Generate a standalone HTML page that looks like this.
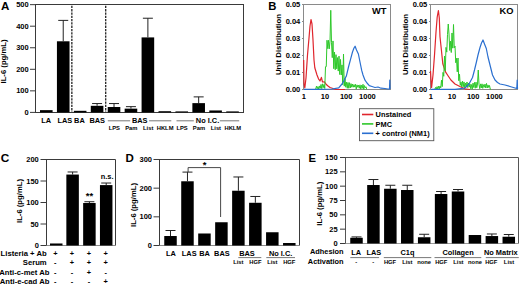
<!DOCTYPE html>
<html><head><meta charset="utf-8"><style>
html,body{margin:0;padding:0;background:#fff;}
body{width:520px;height:284px;overflow:hidden;}
svg{display:block;font-family:"Liberation Sans", sans-serif;}
</style></head><body>
<svg width="520" height="284" viewBox="0 0 520 284" font-family='"Liberation Sans", sans-serif'>
<rect width="520" height="284" fill="#fff"/>
<rect x="35.50" y="4.50" width="208.00" height="108.00" fill="none" stroke="#3a3a3a" stroke-width="1"/>
<line x1="30.00" y1="112.40" x2="35.50" y2="112.40" stroke="#3a3a3a" stroke-width="1"/>
<text x="28.70" y="115.00" font-size="7.5" text-anchor="end" font-weight="bold" fill="#000">0</text>
<line x1="30.00" y1="90.85" x2="35.50" y2="90.85" stroke="#3a3a3a" stroke-width="1"/>
<text x="28.70" y="93.45" font-size="7.5" text-anchor="end" font-weight="bold" fill="#000">100</text>
<line x1="30.00" y1="69.30" x2="35.50" y2="69.30" stroke="#3a3a3a" stroke-width="1"/>
<text x="28.70" y="71.90" font-size="7.5" text-anchor="end" font-weight="bold" fill="#000">200</text>
<line x1="30.00" y1="47.75" x2="35.50" y2="47.75" stroke="#3a3a3a" stroke-width="1"/>
<text x="28.70" y="50.35" font-size="7.5" text-anchor="end" font-weight="bold" fill="#000">300</text>
<line x1="30.00" y1="26.20" x2="35.50" y2="26.20" stroke="#3a3a3a" stroke-width="1"/>
<text x="28.70" y="28.80" font-size="7.5" text-anchor="end" font-weight="bold" fill="#000">400</text>
<line x1="30.00" y1="4.65" x2="35.50" y2="4.65" stroke="#3a3a3a" stroke-width="1"/>
<text x="28.70" y="7.25" font-size="7.5" text-anchor="end" font-weight="bold" fill="#000">500</text>
<text x="5.90" y="61.50" font-size="7.7" text-anchor="middle" font-weight="bold" fill="#000" transform="rotate(-90 5.90 61.50)">IL-6 (pg/mL)</text>
<text x="0.90" y="9.60" font-size="11.6" text-anchor="start" font-weight="bold" fill="#000">A</text>
<rect x="40.00" y="110.14" width="12.60" height="2.26" fill="#000"/>
<rect x="56.93" y="41.29" width="12.60" height="71.11" fill="#000"/>
<line x1="63.23" y1="20.38" x2="63.23" y2="41.29" stroke="#222" stroke-width="1"/>
<line x1="58.23" y1="20.38" x2="68.23" y2="20.38" stroke="#222" stroke-width="1"/>
<rect x="73.86" y="110.81" width="12.60" height="1.59" fill="#000"/>
<rect x="90.79" y="105.81" width="12.60" height="6.59" fill="#000"/>
<line x1="97.09" y1="103.56" x2="97.09" y2="105.81" stroke="#222" stroke-width="1"/>
<line x1="92.09" y1="103.56" x2="102.09" y2="103.56" stroke="#222" stroke-width="1"/>
<rect x="107.72" y="107.01" width="12.60" height="5.39" fill="#000"/>
<line x1="114.02" y1="103.56" x2="114.02" y2="107.01" stroke="#222" stroke-width="1"/>
<line x1="109.02" y1="103.56" x2="119.02" y2="103.56" stroke="#222" stroke-width="1"/>
<rect x="124.65" y="108.65" width="12.60" height="3.75" fill="#000"/>
<line x1="130.95" y1="106.65" x2="130.95" y2="108.65" stroke="#222" stroke-width="1"/>
<line x1="125.95" y1="106.65" x2="135.95" y2="106.65" stroke="#222" stroke-width="1"/>
<rect x="141.58" y="37.41" width="12.60" height="74.99" fill="#000"/>
<line x1="147.88" y1="18.23" x2="147.88" y2="37.41" stroke="#222" stroke-width="1"/>
<line x1="142.88" y1="18.23" x2="152.88" y2="18.23" stroke="#222" stroke-width="1"/>
<rect x="158.51" y="111.21" width="12.60" height="1.19" fill="#000"/>
<rect x="175.44" y="111.41" width="12.60" height="0.99" fill="#000"/>
<rect x="192.37" y="103.13" width="12.60" height="9.27" fill="#000"/>
<line x1="198.67" y1="96.88" x2="198.67" y2="103.13" stroke="#222" stroke-width="1"/>
<line x1="193.67" y1="96.88" x2="203.67" y2="96.88" stroke="#222" stroke-width="1"/>
<rect x="209.30" y="110.46" width="12.60" height="1.94" fill="#000"/>
<rect x="226.23" y="111.41" width="12.60" height="0.99" fill="#000"/>
<line x1="71.85" y1="5.80" x2="71.85" y2="112.00" stroke="#222" stroke-width="1.3" stroke-dasharray="2.3 1.0"/>
<line x1="105.70" y1="5.80" x2="105.70" y2="112.00" stroke="#222" stroke-width="1.3" stroke-dasharray="2.3 1.0"/>
<text x="46.30" y="122.80" font-size="7.4" text-anchor="middle" font-weight="bold" fill="#000">LA</text>
<text x="64.80" y="122.80" font-size="7.4" text-anchor="middle" font-weight="bold" fill="#000">LAS</text>
<text x="79.40" y="122.80" font-size="7.4" text-anchor="middle" font-weight="bold" fill="#000">BA</text>
<text x="97.20" y="122.80" font-size="7.4" text-anchor="middle" font-weight="bold" fill="#000">BAS</text>
<line x1="107.80" y1="120.80" x2="130.20" y2="120.80" stroke="#555" stroke-width="0.8"/>
<line x1="149.10" y1="120.80" x2="171.30" y2="120.80" stroke="#555" stroke-width="0.8"/>
<text x="139.70" y="122.80" font-size="7.4" text-anchor="middle" font-weight="bold" fill="#000">BAS</text>
<line x1="176.50" y1="120.80" x2="193.80" y2="120.80" stroke="#555" stroke-width="0.8"/>
<line x1="219.80" y1="120.80" x2="239.20" y2="120.80" stroke="#555" stroke-width="0.8"/>
<text x="207.50" y="122.80" font-size="7.4" text-anchor="middle" font-weight="bold" fill="#000">No I.C.</text>
<text x="114.32" y="130.20" font-size="5.8" text-anchor="middle" font-weight="bold" fill="#000">LPS</text>
<text x="131.25" y="130.20" font-size="5.8" text-anchor="middle" font-weight="bold" fill="#000">Pam</text>
<text x="148.18" y="130.20" font-size="5.8" text-anchor="middle" font-weight="bold" fill="#000">List</text>
<text x="165.11" y="130.20" font-size="5.8" text-anchor="middle" font-weight="bold" fill="#000">HKLM</text>
<text x="182.04" y="130.20" font-size="5.8" text-anchor="middle" font-weight="bold" fill="#000">LPS</text>
<text x="198.97" y="130.20" font-size="5.8" text-anchor="middle" font-weight="bold" fill="#000">Pam</text>
<text x="215.90" y="130.20" font-size="5.8" text-anchor="middle" font-weight="bold" fill="#000">List</text>
<text x="232.83" y="130.20" font-size="5.8" text-anchor="middle" font-weight="bold" fill="#000">HKLM</text>
<text x="268.30" y="9.60" font-size="11.3" text-anchor="start" font-weight="bold" fill="#000">B</text>
<rect x="303.50" y="4.50" width="87.00" height="85.00" fill="none" stroke="#8a8a8a" stroke-width="1"/>
<line x1="302.00" y1="89.50" x2="303.50" y2="89.50" stroke="#8a8a8a" stroke-width="1"/>
<text x="300.30" y="92.10" font-size="7.5" text-anchor="end" font-weight="bold" fill="#000">0.00</text>
<line x1="302.00" y1="72.50" x2="303.50" y2="72.50" stroke="#8a8a8a" stroke-width="1"/>
<text x="300.30" y="75.10" font-size="7.5" text-anchor="end" font-weight="bold" fill="#000">0.01</text>
<line x1="302.00" y1="55.50" x2="303.50" y2="55.50" stroke="#8a8a8a" stroke-width="1"/>
<text x="300.30" y="58.10" font-size="7.5" text-anchor="end" font-weight="bold" fill="#000">0.02</text>
<line x1="302.00" y1="38.50" x2="303.50" y2="38.50" stroke="#8a8a8a" stroke-width="1"/>
<text x="300.30" y="41.10" font-size="7.5" text-anchor="end" font-weight="bold" fill="#000">0.03</text>
<line x1="302.00" y1="21.50" x2="303.50" y2="21.50" stroke="#8a8a8a" stroke-width="1"/>
<text x="300.30" y="24.10" font-size="7.5" text-anchor="end" font-weight="bold" fill="#000">0.04</text>
<line x1="302.00" y1="4.50" x2="303.50" y2="4.50" stroke="#8a8a8a" stroke-width="1"/>
<text x="300.30" y="7.10" font-size="7.5" text-anchor="end" font-weight="bold" fill="#000">0.05</text>
<text x="303.80" y="99.00" font-size="7.5" text-anchor="middle" font-weight="bold" fill="#000">1</text>
<text x="325.00" y="99.00" font-size="7.5" text-anchor="middle" font-weight="bold" fill="#000">10</text>
<text x="346.20" y="99.00" font-size="7.5" text-anchor="middle" font-weight="bold" fill="#000">100</text>
<text x="367.40" y="99.00" font-size="7.5" text-anchor="middle" font-weight="bold" fill="#000">1000</text>
<text x="280.60" y="44.50" font-size="7.8" text-anchor="middle" font-weight="bold" fill="#000" transform="rotate(-90 280.60 44.50)">Unit Distribution</text>
<polyline points="303.70,60.00 304.00,84.00 304.80,88.00 306.00,78.00 307.50,55.00 309.00,38.00 310.00,26.00 311.00,19.50 312.00,24.00 313.00,40.00 314.00,60.00 314.80,67.80 317.00,75.00 318.50,78.80 320.00,81.00 321.40,77.40 322.50,82.00 324.40,81.80 326.60,84.80 328.00,86.00 330.00,87.50 333.00,88.50 336.00,89.30 345.00,89.50" fill="none" stroke="#e0252d" stroke-width="1.2" stroke-linejoin="round"/>
<polyline points="315.00,89.50 315.75,88.93 316.50,86.07 317.25,88.69 318.00,86.57 318.75,89.42 319.50,85.95 320.25,88.30 321.00,84.48 321.75,88.66 322.50,83.82 323.25,87.63 324.00,84.52 324.75,88.47 325.50,66.70 326.25,66.66 327.00,40.22 327.75,48.67 328.50,40.29 329.25,48.86 330.00,41.23 330.75,10.30 331.50,42.74 332.25,57.67 333.00,40.95 333.75,68.69 334.50,52.00 335.25,69.72 336.00,54.67 336.75,68.85 337.50,57.62 338.25,71.07 339.00,56.15 339.75,74.55 340.50,59.44 341.25,75.00 342.00,64.92 342.75,84.74 343.50,54.00 344.25,86.15 345.00,78.40 345.75,87.23 346.50,82.18 347.25,88.26 348.00,82.46 348.75,88.27 349.50,82.69 350.25,87.97 351.00,83.63 351.75,87.20 352.50,84.03 353.25,87.19 354.00,84.60 354.75,87.10 355.50,84.29 356.25,89.12 357.00,84.87 357.75,87.29 358.50,85.11 359.25,88.24 360.00,84.84 360.75,89.05 361.50,85.25 362.25,88.32 363.00,84.29 363.75,89.37 364.50,85.59 365.25,87.83 366.00,86.84 366.75,89.31" fill="none" stroke="#2ec82a" stroke-width="1.0" stroke-linejoin="round"/>
<polyline points="304.00,89.30 320.00,89.30 332.00,89.00 338.70,87.90 342.00,84.00 344.00,80.50 346.40,75.90 348.50,67.00 350.80,58.40 352.50,52.00 354.00,48.00 355.10,46.20 356.50,50.00 358.40,54.00 360.00,62.00 361.70,70.40 363.00,75.00 365.00,80.20 367.00,83.00 369.30,85.70 372.00,86.50 375.00,87.50 378.00,87.00 381.00,88.20 385.00,88.50 388.00,89.00 389.50,89.00 389.80,80.00 390.00,89.00" fill="none" stroke="#2a6fd0" stroke-width="1.2" stroke-linejoin="round"/>
<text x="386.50" y="13.90" font-size="9.3" text-anchor="end" font-weight="bold" fill="#000">WT</text>
<rect x="430.50" y="4.50" width="87.00" height="85.00" fill="none" stroke="#8a8a8a" stroke-width="1"/>
<line x1="429.00" y1="89.50" x2="430.50" y2="89.50" stroke="#8a8a8a" stroke-width="1"/>
<text x="427.30" y="92.10" font-size="7.5" text-anchor="end" font-weight="bold" fill="#000">0.00</text>
<line x1="429.00" y1="72.50" x2="430.50" y2="72.50" stroke="#8a8a8a" stroke-width="1"/>
<text x="427.30" y="75.10" font-size="7.5" text-anchor="end" font-weight="bold" fill="#000">0.01</text>
<line x1="429.00" y1="55.50" x2="430.50" y2="55.50" stroke="#8a8a8a" stroke-width="1"/>
<text x="427.30" y="58.10" font-size="7.5" text-anchor="end" font-weight="bold" fill="#000">0.02</text>
<line x1="429.00" y1="38.50" x2="430.50" y2="38.50" stroke="#8a8a8a" stroke-width="1"/>
<text x="427.30" y="41.10" font-size="7.5" text-anchor="end" font-weight="bold" fill="#000">0.03</text>
<line x1="429.00" y1="21.50" x2="430.50" y2="21.50" stroke="#8a8a8a" stroke-width="1"/>
<text x="427.30" y="24.10" font-size="7.5" text-anchor="end" font-weight="bold" fill="#000">0.04</text>
<line x1="429.00" y1="4.50" x2="430.50" y2="4.50" stroke="#8a8a8a" stroke-width="1"/>
<text x="427.30" y="7.10" font-size="7.5" text-anchor="end" font-weight="bold" fill="#000">0.05</text>
<text x="430.80" y="99.00" font-size="7.5" text-anchor="middle" font-weight="bold" fill="#000">1</text>
<text x="452.00" y="99.00" font-size="7.5" text-anchor="middle" font-weight="bold" fill="#000">10</text>
<text x="473.20" y="99.00" font-size="7.5" text-anchor="middle" font-weight="bold" fill="#000">100</text>
<text x="494.40" y="99.00" font-size="7.5" text-anchor="middle" font-weight="bold" fill="#000">1000</text>
<text x="408.00" y="44.50" font-size="7.8" text-anchor="middle" font-weight="bold" fill="#000" transform="rotate(-90 408.00 44.50)">Unit Distribution</text>
<polyline points="430.50,71.00 431.00,80.00 431.60,87.50 433.00,75.00 434.50,55.00 436.00,32.00 437.20,17.00 438.40,10.50 439.30,18.00 440.00,36.70 441.40,50.00 442.80,63.80 445.50,71.90 448.20,76.00 450.90,80.00 455.00,84.00 460.40,86.80 465.00,88.80 470.00,89.50" fill="none" stroke="#e0252d" stroke-width="1.2" stroke-linejoin="round"/>
<polyline points="434.00,89.50 434.75,89.43 435.50,87.47 436.25,89.41 437.00,86.66 437.75,89.05 438.50,86.07 439.25,88.88 440.00,86.05 440.75,87.88 441.50,80.20 442.25,86.62 443.00,72.38 443.75,76.27 444.50,55.99 445.25,70.93 446.00,47.38 446.75,52.12 447.50,34.51 448.25,24.00 449.00,33.98 449.75,50.49 450.50,41.21 451.25,52.53 452.00,32.99 452.75,48.18 453.50,24.50 454.25,47.81 455.00,46.08 455.75,62.74 456.50,58.35 457.25,71.85 458.00,58.00 458.75,80.69 459.50,74.21 460.25,85.35 461.00,81.91 461.75,86.93 462.50,81.20 463.25,86.76 464.00,81.91 464.75,87.81 465.50,83.15 466.25,86.99 467.00,81.99 467.75,87.59 468.50,83.06 469.25,87.07 470.00,83.91 470.75,88.74 471.50,84.57 472.25,89.19 473.00,83.10 473.75,87.51 474.50,82.40 475.25,88.22 476.00,82.10 476.75,87.75 477.50,84.01 478.25,70.00 479.00,84.30 479.75,88.68 480.50,83.90 481.25,87.99 482.00,83.84 482.75,88.39 483.50,84.70 484.25,87.30 485.00,84.08 485.75,88.02 486.50,83.43 487.25,88.01 488.00,84.94 488.75,87.50 489.50,85.51 490.25,89.09 491.00,89.50" fill="none" stroke="#2ec82a" stroke-width="1.0" stroke-linejoin="round"/>
<polyline points="431.00,89.30 455.00,89.30 465.00,88.00 469.00,84.00 472.50,77.50 474.50,70.00 476.30,62.50 478.00,55.00 480.00,47.50 481.50,43.00 483.00,40.00 484.50,44.00 486.30,48.50 488.00,57.00 490.00,65.00 492.50,75.00 495.00,80.00 497.50,82.50 500.00,84.00 505.00,85.00 510.00,86.50 515.00,88.00 516.80,88.50 517.20,80.00 517.50,89.00" fill="none" stroke="#2a6fd0" stroke-width="1.2" stroke-linejoin="round"/>
<text x="513.50" y="13.90" font-size="9.3" text-anchor="end" font-weight="bold" fill="#000">KO</text>
<rect x="359.50" y="108.70" width="74.30" height="32.00" fill="none" stroke="#555" stroke-width="0.9"/>
<line x1="362.00" y1="114.50" x2="373.30" y2="114.50" stroke="#e0252d" stroke-width="1.6"/>
<text x="375.60" y="117.10" font-size="7.4" text-anchor="start" font-weight="bold" fill="#000">Unstained</text>
<line x1="362.00" y1="123.90" x2="373.30" y2="123.90" stroke="#2ec82a" stroke-width="1.6"/>
<text x="375.60" y="126.50" font-size="7.4" text-anchor="start" font-weight="bold" fill="#000">PMC</text>
<line x1="362.00" y1="133.30" x2="373.30" y2="133.30" stroke="#2a6fd0" stroke-width="1.6"/>
<text x="375.60" y="135.90" font-size="7.4" text-anchor="start" font-weight="bold" fill="#000">+ control (NM1)</text>
<polyline points="46.00,159.50 115.50,159.50 115.50,245.50" fill="none" stroke="#3a3a3a" stroke-width="1"/>
<line x1="46.50" y1="159.50" x2="46.50" y2="245.50" stroke="#3a3a3a" stroke-width="1"/>
<line x1="46.00" y1="245.50" x2="116.00" y2="245.50" stroke="#8a8a8a" stroke-width="1"/>
<line x1="40.50" y1="245.50" x2="46.50" y2="245.50" stroke="#3a3a3a" stroke-width="1"/>
<text x="38.80" y="248.10" font-size="7.5" text-anchor="end" font-weight="bold" fill="#000">0</text>
<line x1="40.50" y1="224.00" x2="46.50" y2="224.00" stroke="#3a3a3a" stroke-width="1"/>
<text x="38.80" y="226.60" font-size="7.5" text-anchor="end" font-weight="bold" fill="#000">50</text>
<line x1="40.50" y1="202.50" x2="46.50" y2="202.50" stroke="#3a3a3a" stroke-width="1"/>
<text x="38.80" y="205.10" font-size="7.5" text-anchor="end" font-weight="bold" fill="#000">100</text>
<line x1="40.50" y1="181.00" x2="46.50" y2="181.00" stroke="#3a3a3a" stroke-width="1"/>
<text x="38.80" y="183.60" font-size="7.5" text-anchor="end" font-weight="bold" fill="#000">150</text>
<line x1="40.50" y1="159.50" x2="46.50" y2="159.50" stroke="#3a3a3a" stroke-width="1"/>
<text x="38.80" y="162.10" font-size="7.5" text-anchor="end" font-weight="bold" fill="#000">200</text>
<text x="22.00" y="201.00" font-size="7.7" text-anchor="middle" font-weight="bold" fill="#000" transform="rotate(-90 22.00 201.00)">IL-6 (pg/mL)</text>
<text x="0.70" y="162.40" font-size="11.8" text-anchor="start" font-weight="bold" fill="#000">C</text>
<rect x="50.00" y="243.48" width="12.50" height="2.02" fill="#000"/>
<rect x="66.35" y="174.55" width="12.50" height="70.95" fill="#000"/>
<line x1="72.60" y1="171.97" x2="72.60" y2="174.55" stroke="#222" stroke-width="1"/>
<line x1="67.60" y1="171.97" x2="77.60" y2="171.97" stroke="#222" stroke-width="1"/>
<rect x="83.15" y="203.02" width="12.50" height="42.48" fill="#000"/>
<line x1="89.40" y1="201.73" x2="89.40" y2="203.02" stroke="#222" stroke-width="1"/>
<line x1="84.40" y1="201.73" x2="94.40" y2="201.73" stroke="#222" stroke-width="1"/>
<rect x="99.95" y="185.09" width="12.50" height="60.41" fill="#000"/>
<line x1="106.20" y1="183.02" x2="106.20" y2="185.09" stroke="#222" stroke-width="1"/>
<line x1="101.20" y1="183.02" x2="111.20" y2="183.02" stroke="#222" stroke-width="1"/>
<text x="89.40" y="199.40" font-size="9.5" text-anchor="middle" font-weight="bold" fill="#000">**</text>
<text x="107.10" y="179.20" font-size="7.4" text-anchor="middle" font-weight="bold" fill="#000">n.s.</text>
<text x="46.70" y="255.70" font-size="7.7" text-anchor="end" font-weight="bold" fill="#000">Listeria + Ab</text>
<text x="55.30" y="255.70" font-size="7.4" text-anchor="middle" font-weight="bold" fill="#000">+</text>
<text x="72.00" y="255.70" font-size="7.4" text-anchor="middle" font-weight="bold" fill="#000">+</text>
<text x="88.90" y="255.70" font-size="7.4" text-anchor="middle" font-weight="bold" fill="#000">+</text>
<text x="105.70" y="255.70" font-size="7.4" text-anchor="middle" font-weight="bold" fill="#000">+</text>
<text x="46.70" y="265.00" font-size="7.7" text-anchor="end" font-weight="bold" fill="#000">Serum</text>
<text x="55.30" y="265.00" font-size="7.4" text-anchor="middle" font-weight="bold" fill="#000">-</text>
<text x="72.00" y="265.00" font-size="7.4" text-anchor="middle" font-weight="bold" fill="#000">+</text>
<text x="88.90" y="265.00" font-size="7.4" text-anchor="middle" font-weight="bold" fill="#000">+</text>
<text x="105.70" y="265.00" font-size="7.4" text-anchor="middle" font-weight="bold" fill="#000">+</text>
<text x="49.40" y="274.60" font-size="7.7" text-anchor="end" font-weight="bold" fill="#000">Anti-c-met Ab</text>
<text x="55.30" y="274.60" font-size="7.4" text-anchor="middle" font-weight="bold" fill="#000">-</text>
<text x="72.00" y="274.60" font-size="7.4" text-anchor="middle" font-weight="bold" fill="#000">-</text>
<text x="88.90" y="274.60" font-size="7.4" text-anchor="middle" font-weight="bold" fill="#000">+</text>
<text x="105.70" y="274.60" font-size="7.4" text-anchor="middle" font-weight="bold" fill="#000">-</text>
<text x="49.40" y="283.80" font-size="7.7" text-anchor="end" font-weight="bold" fill="#000">Anti-e-cad Ab</text>
<text x="55.30" y="283.80" font-size="7.4" text-anchor="middle" font-weight="bold" fill="#000">-</text>
<text x="72.00" y="283.80" font-size="7.4" text-anchor="middle" font-weight="bold" fill="#000">-</text>
<text x="88.90" y="283.80" font-size="7.4" text-anchor="middle" font-weight="bold" fill="#000">-</text>
<text x="105.70" y="283.80" font-size="7.4" text-anchor="middle" font-weight="bold" fill="#000">+</text>
<polyline points="159.00,159.50 299.50,159.50 299.50,245.50" fill="none" stroke="#3a3a3a" stroke-width="1"/>
<line x1="159.50" y1="159.50" x2="159.50" y2="245.50" stroke="#3a3a3a" stroke-width="1"/>
<line x1="159.00" y1="245.50" x2="300.00" y2="245.50" stroke="#8a8a8a" stroke-width="1"/>
<line x1="153.50" y1="245.50" x2="159.50" y2="245.50" stroke="#3a3a3a" stroke-width="1"/>
<text x="152.00" y="248.10" font-size="7.5" text-anchor="end" font-weight="bold" fill="#000">0</text>
<line x1="153.50" y1="216.83" x2="159.50" y2="216.83" stroke="#3a3a3a" stroke-width="1"/>
<text x="152.00" y="219.43" font-size="7.5" text-anchor="end" font-weight="bold" fill="#000">100</text>
<line x1="153.50" y1="188.16" x2="159.50" y2="188.16" stroke="#3a3a3a" stroke-width="1"/>
<text x="152.00" y="190.76" font-size="7.5" text-anchor="end" font-weight="bold" fill="#000">200</text>
<line x1="153.50" y1="159.49" x2="159.50" y2="159.49" stroke="#3a3a3a" stroke-width="1"/>
<text x="152.00" y="162.09" font-size="7.5" text-anchor="end" font-weight="bold" fill="#000">300</text>
<text x="135.50" y="205.00" font-size="7.7" text-anchor="middle" font-weight="bold" fill="#000" transform="rotate(-90 135.50 205.00)">IL-6 (pg/mL)</text>
<text x="125.60" y="162.00" font-size="11.5" text-anchor="start" font-weight="bold" fill="#000">D</text>
<rect x="164.25" y="236.01" width="12.50" height="9.49" fill="#000"/>
<line x1="170.50" y1="230.51" x2="170.50" y2="236.01" stroke="#222" stroke-width="1"/>
<line x1="165.50" y1="230.51" x2="175.50" y2="230.51" stroke="#222" stroke-width="1"/>
<rect x="181.22" y="181.28" width="12.50" height="64.22" fill="#000"/>
<line x1="187.47" y1="172.10" x2="187.47" y2="181.28" stroke="#222" stroke-width="1"/>
<line x1="182.47" y1="172.10" x2="192.47" y2="172.10" stroke="#222" stroke-width="1"/>
<rect x="198.19" y="233.49" width="12.50" height="12.01" fill="#000"/>
<rect x="215.16" y="222.25" width="12.50" height="23.25" fill="#000"/>
<rect x="232.13" y="190.74" width="12.50" height="54.76" fill="#000"/>
<line x1="238.38" y1="176.98" x2="238.38" y2="190.74" stroke="#222" stroke-width="1"/>
<line x1="233.38" y1="176.98" x2="243.38" y2="176.98" stroke="#222" stroke-width="1"/>
<rect x="249.10" y="202.78" width="12.50" height="42.72" fill="#000"/>
<line x1="255.35" y1="196.47" x2="255.35" y2="202.78" stroke="#222" stroke-width="1"/>
<line x1="250.35" y1="196.47" x2="260.35" y2="196.47" stroke="#222" stroke-width="1"/>
<rect x="266.07" y="232.25" width="12.50" height="13.25" fill="#000"/>
<rect x="283.04" y="243.01" width="12.50" height="2.49" fill="#000"/>
<polyline points="188.1,172 188.1,167.6 220.6,167.6 220.6,217" fill="none" stroke="#333" stroke-width="0.9"/>
<text x="204.50" y="168.30" font-size="9.5" text-anchor="middle" font-weight="bold" fill="#000">*</text>
<text x="170.90" y="255.60" font-size="7.4" text-anchor="middle" font-weight="bold" fill="#000">LA</text>
<text x="189.20" y="255.60" font-size="7.4" text-anchor="middle" font-weight="bold" fill="#000">LAS</text>
<text x="204.50" y="255.60" font-size="7.4" text-anchor="middle" font-weight="bold" fill="#000">BA</text>
<text x="221.90" y="255.60" font-size="7.4" text-anchor="middle" font-weight="bold" fill="#000">BAS</text>
<text x="247.00" y="255.60" font-size="7.4" text-anchor="middle" font-weight="bold" fill="#000">BAS</text>
<text x="280.60" y="255.60" font-size="7.4" text-anchor="middle" font-weight="bold" fill="#000">No I.C.</text>
<line x1="238.30" y1="257.60" x2="261.30" y2="257.60" stroke="#555" stroke-width="0.8"/>
<line x1="266.30" y1="257.60" x2="295.00" y2="257.60" stroke="#555" stroke-width="0.8"/>
<text x="238.38" y="264.30" font-size="5.8" text-anchor="middle" font-weight="bold" fill="#000">List</text>
<text x="255.35" y="264.30" font-size="5.8" text-anchor="middle" font-weight="bold" fill="#000">HGF</text>
<text x="272.32" y="264.30" font-size="5.8" text-anchor="middle" font-weight="bold" fill="#000">List</text>
<text x="289.29" y="264.30" font-size="5.8" text-anchor="middle" font-weight="bold" fill="#000">HGF</text>
<polyline points="345.00,157.50 518.50,157.50 518.50,243.50" fill="none" stroke="#555" stroke-width="1"/>
<line x1="345.50" y1="157.50" x2="345.50" y2="243.50" stroke="#555" stroke-width="1"/>
<line x1="345.00" y1="243.50" x2="519.00" y2="243.50" stroke="#999" stroke-width="1"/>
<line x1="340.00" y1="243.50" x2="345.50" y2="243.50" stroke="#3a3a3a" stroke-width="1"/>
<text x="337.60" y="246.10" font-size="7.5" text-anchor="end" font-weight="bold" fill="#000">0</text>
<line x1="340.00" y1="229.17" x2="345.50" y2="229.17" stroke="#3a3a3a" stroke-width="1"/>
<text x="337.60" y="231.77" font-size="7.5" text-anchor="end" font-weight="bold" fill="#000">25</text>
<line x1="340.00" y1="214.84" x2="345.50" y2="214.84" stroke="#3a3a3a" stroke-width="1"/>
<text x="337.60" y="217.44" font-size="7.5" text-anchor="end" font-weight="bold" fill="#000">50</text>
<line x1="340.00" y1="200.50" x2="345.50" y2="200.50" stroke="#3a3a3a" stroke-width="1"/>
<text x="337.60" y="203.10" font-size="7.5" text-anchor="end" font-weight="bold" fill="#000">75</text>
<line x1="340.00" y1="186.17" x2="345.50" y2="186.17" stroke="#3a3a3a" stroke-width="1"/>
<text x="337.60" y="188.77" font-size="7.5" text-anchor="end" font-weight="bold" fill="#000">100</text>
<line x1="340.00" y1="171.84" x2="345.50" y2="171.84" stroke="#3a3a3a" stroke-width="1"/>
<text x="337.60" y="174.44" font-size="7.5" text-anchor="end" font-weight="bold" fill="#000">125</text>
<line x1="340.00" y1="157.50" x2="345.50" y2="157.50" stroke="#3a3a3a" stroke-width="1"/>
<text x="337.60" y="160.10" font-size="7.5" text-anchor="end" font-weight="bold" fill="#000">150</text>
<text x="321.80" y="203.70" font-size="7.7" text-anchor="middle" font-weight="bold" fill="#000" transform="rotate(-90 321.80 203.70)">IL-6 (pg/mL)</text>
<text x="308.60" y="161.90" font-size="11.3" text-anchor="start" font-weight="bold" fill="#000">E</text>
<rect x="350.25" y="237.77" width="12.50" height="5.73" fill="#000"/>
<line x1="356.50" y1="236.91" x2="356.50" y2="237.77" stroke="#222" stroke-width="1"/>
<line x1="351.50" y1="236.91" x2="361.50" y2="236.91" stroke="#222" stroke-width="1"/>
<rect x="367.17" y="185.02" width="12.50" height="58.48" fill="#000"/>
<line x1="373.42" y1="179.52" x2="373.42" y2="185.02" stroke="#222" stroke-width="1"/>
<line x1="368.42" y1="179.52" x2="378.42" y2="179.52" stroke="#222" stroke-width="1"/>
<rect x="384.09" y="188.75" width="12.50" height="54.75" fill="#000"/>
<line x1="390.34" y1="185.25" x2="390.34" y2="188.75" stroke="#222" stroke-width="1"/>
<line x1="385.34" y1="185.25" x2="395.34" y2="185.25" stroke="#222" stroke-width="1"/>
<rect x="401.01" y="190.01" width="12.50" height="53.49" fill="#000"/>
<line x1="407.26" y1="185.25" x2="407.26" y2="190.01" stroke="#222" stroke-width="1"/>
<line x1="402.26" y1="185.25" x2="412.26" y2="185.25" stroke="#222" stroke-width="1"/>
<rect x="417.93" y="237.25" width="12.50" height="6.25" fill="#000"/>
<line x1="424.18" y1="234.27" x2="424.18" y2="237.25" stroke="#222" stroke-width="1"/>
<line x1="419.18" y1="234.27" x2="429.18" y2="234.27" stroke="#222" stroke-width="1"/>
<rect x="434.85" y="194.02" width="12.50" height="49.48" fill="#000"/>
<line x1="441.10" y1="191.50" x2="441.10" y2="194.02" stroke="#222" stroke-width="1"/>
<line x1="436.10" y1="191.50" x2="446.10" y2="191.50" stroke="#222" stroke-width="1"/>
<rect x="451.77" y="191.50" width="12.50" height="52.00" fill="#000"/>
<line x1="458.02" y1="189.50" x2="458.02" y2="191.50" stroke="#222" stroke-width="1"/>
<line x1="453.02" y1="189.50" x2="463.02" y2="189.50" stroke="#222" stroke-width="1"/>
<rect x="468.69" y="235.02" width="12.50" height="8.48" fill="#000"/>
<rect x="485.61" y="236.05" width="12.50" height="7.45" fill="#000"/>
<line x1="491.86" y1="233.98" x2="491.86" y2="236.05" stroke="#222" stroke-width="1"/>
<line x1="486.86" y1="233.98" x2="496.86" y2="233.98" stroke="#222" stroke-width="1"/>
<rect x="502.53" y="236.74" width="12.50" height="6.76" fill="#000"/>
<line x1="508.78" y1="234.50" x2="508.78" y2="236.74" stroke="#222" stroke-width="1"/>
<line x1="503.78" y1="234.50" x2="513.78" y2="234.50" stroke="#222" stroke-width="1"/>
<text x="343.60" y="254.40" font-size="7.4" text-anchor="end" font-weight="bold" fill="#000">Adhesion</text>
<text x="343.60" y="263.60" font-size="7.4" text-anchor="end" font-weight="bold" fill="#000">Activation</text>
<text x="356.20" y="254.50" font-size="7.4" text-anchor="middle" font-weight="bold" fill="#000">LA</text>
<text x="373.80" y="254.50" font-size="7.4" text-anchor="middle" font-weight="bold" fill="#000">LAS</text>
<text x="407.50" y="254.50" font-size="7.4" text-anchor="middle" font-weight="bold" fill="#000">C1q</text>
<text x="458.10" y="254.50" font-size="7.4" text-anchor="middle" font-weight="bold" fill="#000">Collagen</text>
<text x="500.80" y="254.50" font-size="7.4" text-anchor="middle" font-weight="bold" fill="#000">No Matrix</text>
<line x1="350.30" y1="257.60" x2="379.10" y2="257.60" stroke="#555" stroke-width="0.8"/>
<line x1="383.80" y1="257.60" x2="431.30" y2="257.60" stroke="#555" stroke-width="0.8"/>
<line x1="434.50" y1="257.60" x2="481.30" y2="257.60" stroke="#555" stroke-width="0.8"/>
<line x1="485.80" y1="257.60" x2="518.80" y2="257.60" stroke="#555" stroke-width="0.8"/>
<text x="356.30" y="264.30" font-size="5.8" text-anchor="middle" font-weight="bold" fill="#000">-</text>
<text x="373.30" y="264.30" font-size="5.8" text-anchor="middle" font-weight="bold" fill="#000">-</text>
<text x="390.00" y="264.30" font-size="5.8" text-anchor="middle" font-weight="bold" fill="#000">HGF</text>
<text x="407.30" y="264.30" font-size="5.8" text-anchor="middle" font-weight="bold" fill="#000">List</text>
<text x="424.10" y="264.30" font-size="5.8" text-anchor="middle" font-weight="bold" fill="#000">none</text>
<text x="441.30" y="264.30" font-size="5.8" text-anchor="middle" font-weight="bold" fill="#000">HGF</text>
<text x="458.40" y="264.30" font-size="5.8" text-anchor="middle" font-weight="bold" fill="#000">List</text>
<text x="475.00" y="264.30" font-size="5.8" text-anchor="middle" font-weight="bold" fill="#000">none</text>
<text x="491.30" y="264.30" font-size="5.8" text-anchor="middle" font-weight="bold" fill="#000">HGF</text>
<text x="509.00" y="264.30" font-size="5.8" text-anchor="middle" font-weight="bold" fill="#000">List</text>
</svg>
</body></html>
